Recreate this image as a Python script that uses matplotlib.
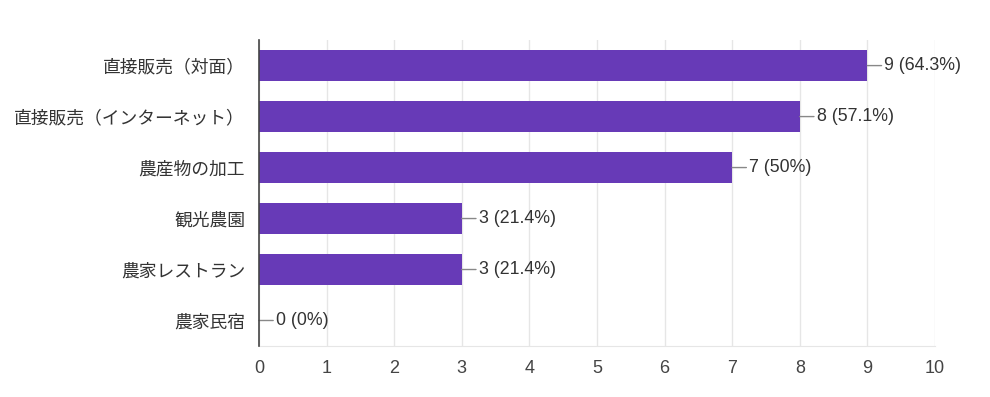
#!/usr/bin/env python3

import matplotlib
matplotlib.use("Agg")
import matplotlib.pyplot as plt

plt.rcParams['font.family'] = ['Noto Sans CJK JP', 'DejaVu Sans']

categories = ["直接販売（対面）", "直接販売（インターネット）", "農産物の加工",
              "観光農園", "農家レストラン", "農家民宿"]
counts = [9, 8, 7, 3, 3, 0]
percents = ["64.3%", "57.1%", "50%", "21.4%", "21.4%", "0%"]
xticks = list(range(0, 11))

fig = plt.figure(figsize=(9.9, 3.97), dpi=100)
ax = fig.add_axes([0.2616, 0.1285, 0.6828, 0.7705])

ypos = list(range(len(categories)))
ax.barh(ypos, counts, height=0.62, color="#673ab7", zorder=3)

for y, c, p in zip(ypos, counts, percents):
    ax.annotate(f"{c} ({p})", xy=(c, y), xytext=(17, 0), textcoords="offset pixels",
                va="center", ha="left", fontsize=12.8, color="#333333",
                family=["Liberation Sans", "DejaVu Sans"],
                arrowprops=dict(arrowstyle="-", color="#888888", lw=1,
                                shrinkA=0, shrinkB=0, relpos=(0, 0.5)),
                zorder=4)

ax.set_xlim(0, 10)
ax.set_ylim(len(categories) - 0.5, -0.5)
ax.set_yticks(ypos)
ax.set_yticklabels(categories, fontsize=12.8, color="#333333")
ax.set_xticks(xticks)
ax.set_xticklabels([str(t) for t in xticks], fontsize=13, color="#444444",
                   family=["Liberation Sans", "DejaVu Sans"])
ax.tick_params(axis="both", length=0)
ax.tick_params(axis="y", pad=10)
ax.tick_params(axis="x", pad=10)

ax.grid(axis="x", color="#e6e6e6", lw=1, zorder=0)
for s in ["top", "right"]:
    ax.spines[s].set_visible(False)
ax.spines["bottom"].set_color("#e6e6e6")
ax.spines["left"].set_color("#444444")
ax.spines["left"].set_linewidth(1.2)
ax.spines["left"].set_zorder(5)

fig.savefig("out.png", dpi=100)
